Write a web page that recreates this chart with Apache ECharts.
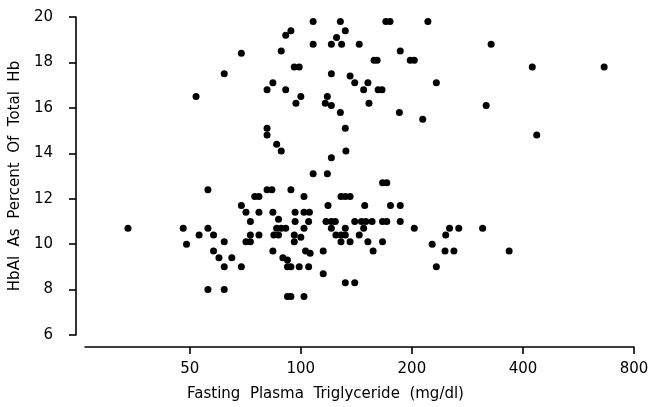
<!DOCTYPE html>
<html>
<head>
<meta charset="utf-8">
<script src="https://cdn.jsdelivr.net/npm/echarts@6/dist/echarts.min.js"></script>
<style>html,body{margin:0;padding:0;background:#fff}#c{width:665px;height:407px}</style>
</head>
<body>
<div id="c"></div>
<script>
// Fasting plasma triglyceride (mg/dl)
var triglyceride = [
  52,62,69,81,84,81,81,86,88.5,88.5,91,94,91,97,100,96,99,108,108,121,121,118,116.5,121,121,125,128,132,129,128,132,132.5,136,140,144,148,152,153,158,161,162,
  170,174.5,221,186,198,203,233,166,185,214,328,318,424,436,664,
  34,48,49,53,56,56,58,62,58,60,65,62,69,56,62,69,71,73,73,75,77,77,77,71,73,81,83.5,84,87,86,88.5,91,84.5,87,84,89.4,92,92,94,99,94,96.5,96.5,96,100,96,102,102,105.5,105,102,103,106,105,92,94,102,108,118,118.5,115,115,117,121,124,121,124.5,128.5,132,128.5,132,128.5,132,136,136,132,140,140,146,150,156,144,148,149,152,157,
  166.5,171,175,186,166.5,171,186,203,166.5,227,233,247,253,268,246,260,311,367
];
// HbA1 as percent of total Hb
var hba1 = [
  16.5,17.5,18.4,16.8,17.1,15.1,14.8,14.4,14.1,18.5,19.2,19.4,16.8,16.2,16.5,17.8,17.8,19.8,18.8,13.8,17.5,16.5,16.2,16.1,18.8,19.1,19.8,19.4,18.8,15.8,15.1,14.1,17.4,17.1,18.8,16.8,17.1,16.2,18.1,18.1,16.8,
  19.8,19.8,19.8,18.5,18.1,18.1,17.1,16.8,15.8,15.5,18.8,16.1,17.8,14.8,17.8,
  10.7,10.7,10.0,10.4,12.4,10.7,10.4,10.1,9.7,9.4,9.4,9.0,9.0,8.0,8.0,11.7,11.4,11.0,10.4,12.1,12.1,11.4,10.4,10.1,10.1,12.4,12.4,11.4,11.1,10.7,10.7,10.7,10.4,10.4,9.7,9.4,9.3,9.0,9.0,9.0,12.4,11.4,11.0,10.4,10.3,10.1,12.1,11.4,11.4,11.0,10.7,9.7,9.6,9.0,7.7,7.7,7.7,13.1,13.1,11.7,9.7,8.7,11.0,11.0,11.0,10.7,10.4,10.4,10.4,10.1,10.7,12.1,12.1,12.1,10.1,8.3,8.3,11.0,11.0,11.0,11.0,10.4,10.7,11.7,10.1,9.7,
  12.7,12.7,11.7,11.7,11.0,11.0,11.0,10.7,10.1,10.0,9.0,10.4,10.7,10.7,9.7,9.7,10.7,9.7
];
var xTicks = [50, 100, 200, 400, 800];
var yTicks = [6, 8, 10, 12, 14, 16, 18, 20];

var points = triglyceride.map(function (v, i) { return [v, hba1[i]]; });
var font = 'DejaVu Sans';
var chart = echarts.init(document.getElementById('c'), null, {renderer: 'canvas'});
chart.setOption({
  animation: false,
  backgroundColor: '#fff',
  grid: {left: 83, right: 31, top: 17, bottom: 71},
  xAxis: {
    type: 'log', logBase: 2, min: 26, max: 800,
    offset: 12,
    name: 'Fasting  Plasma  Triglyceride  (mg/dl)',
    nameLocation: 'middle', nameGap: 40,
    nameTextStyle: {fontFamily: font, fontSize: 15, color: '#000', padding: [0, 68, 0, 0]},
    axisLine: {lineStyle: {color: '#000', width: 1.6}},
    axisTick: {show: true, length: 7, customValues: xTicks, lineStyle: {color: '#000', width: 1.6}},
    axisLabel: {customValues: xTicks, margin: 15, fontFamily: font, fontSize: 15, color: '#000'},
    splitLine: {show: false}, minorTick: {show: false}
  },
  yAxis: {
    type: 'value', min: 6, max: 20, interval: 2,
    offset: 9,
    name: 'HbAl  As  Percent  Of  Total  Hb',
    nameLocation: 'middle', nameGap: 45, nameRotate: 90,
    nameTextStyle: {fontFamily: font, fontSize: 15, color: '#000'},
    axisLine: {show: true, lineStyle: {color: '#000', width: 1.6}},
    axisTick: {show: true, length: 7, customValues: yTicks, lineStyle: {color: '#000', width: 1.6}},
    axisLabel: {margin: 23, fontFamily: font, fontSize: 15, color: '#000'},
    splitLine: {show: false}
  },
  series: [{
    type: 'scatter',
    data: points,
    symbol: 'circle',
    symbolSize: 7,
    itemStyle: {color: '#000', opacity: 1}
  }]
});
</script>
</body>
</html>
